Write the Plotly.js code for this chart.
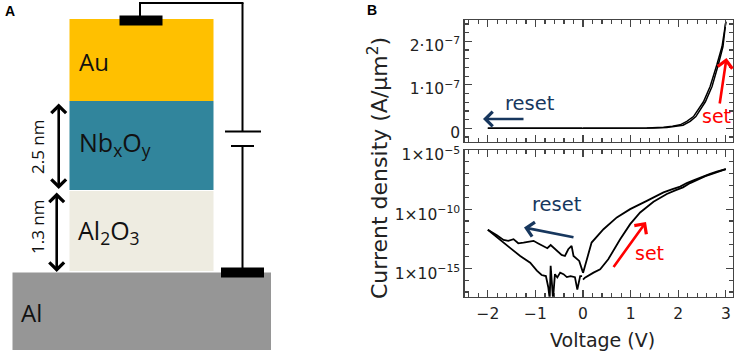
<!DOCTYPE html>
<html>
<head>
<meta charset="utf-8">
<script src="https://cdn.plot.ly/plotly-3.0.1.min.js"></script>
<style>html,body{margin:0;padding:0;background:#fff}</style>
</head>
<body>
<div id="chart" style="width:737px;height:352px"></div>
<script>
const setV = [0, 0.04, 0.22, 0.36, 0.53, 0.78, 0.99, 1.2, 1.48, 1.76, 1.95, 2.1, 2.25, 2.37, 2.57, 2.71, 2.84, 2.94, 3];
const setJ = [1.1e-16, 1.6e-16, 4.3e-16, 8.3e-16, 5.8e-15, 2.9e-13, 5.4e-12, 5.2e-11, 4.2e-10, 1.9e-9, 4e-9, 7e-9, 1.6e-8, 2.7e-8, 6.1e-8, 9.6e-8, 1.455e-7, 1.88e-7, 2.45e-7];
const returnV = [3, 2.92, 2.81, 2.67, 2.53, 2.32, 2.18, 2.04, 1.88, 1.69, 1.34, 0.99, 0.71, 0.43, 0.18, 0.11, 0.04, 0];
const returnJ = [2.45e-7, 1.88e-7, 1.455e-7, 9.6e-8, 6.1e-8, 2.7e-8, 1.6e-8, 8e-9, 5e-9, 2.6e-9, 5e-10, 1e-10, 2e-11, 2e-12, 1.5e-13, 1.6e-14, 2.2e-15, 4e-16];
const resetV = [0, -0.08, -0.2, -0.24, -0.31, -0.38, -0.45, -0.55, -0.68, -0.75, -0.83, -0.94, -1.04, -1.11, -1.25, -1.36, -1.46, -1.57, -1.67, -1.81, -2];
const resetJ = [4.3e-16, 4.2e-15, 1.1e-14, 7.9e-14, 4.1e-14, 1.1e-14, 1.35e-14, 3e-14, 9.3e-14, 5e-14, 7.9e-14, 1.26e-13, 2.1e-13, 1.8e-13, 1.5e-13, 1.3e-13, 2.9e-13, 2.1e-13, 2.5e-13, 6.3e-13, 1.8e-12];
const backV = [-2, -1.81, -1.54, -1.32, -1.11, -0.97, -0.87, -0.78, -0.73, -0.7, -0.68, -0.63, -0.59, -0.54, -0.48, -0.41, -0.34, -0.26, -0.17, -0.12, -0.06, -0.02];
const backJ = [1.8e-12, 4e-13, 5.6e-14, 1.1e-14, 3e-15, 6.3e-16, 2.7e-16, 2.2e-16, 2.5e-17, 2.5e-18, 1.6e-15, 2.5e-18, 3.2e-16, 1.7e-16, 4.3e-16, 3.2e-16, 1.8e-16, 2.2e-16, 1.8e-16, 1.6e-17, 2.2e-16, 2.2e-16];

const linTickVals = [0, 1e-7, 2e-7];
const linTickText = ['0', '1·10<sup>−7</sup>', '2·10<sup>−7</sup>'];
const logTickVals = [1e-15, 1e-10, 1e-5];
const logTickText = ['1×10<sup>−15</sup>', '1×10<sup>−10</sup>', '1×10<sup>−5</sup>'];
const voltTicks = [-2, -1, 0, 1, 2, 3];
const voltText = ['−2', '−1', '0', '1', '2', '3'];

const W = 737, H = 352;
const X = p => p / W, Y = p => 1 - p / H;
const SANS = 'DejaVu Sans, Verdana, sans-serif';
const LAYER = '"Open Sans", "Noto Sans", sans-serif';
const FRAME = '#444444', NAVY = '#17375E', RED = '#FF0000';

const curves = [[setV, setJ], [returnV, returnJ], [resetV, resetJ], [backV, backJ]];
const traces = [];
[['x', 'y', 1.5], ['x2', 'y2', 1.8]].forEach(([xa, ya, lw]) => curves.forEach(([v, j]) => traces.push({
  x: v, y: j, xaxis: xa, yaxis: ya, type: 'scatter', mode: 'lines',
  line: {color: '#000000', width: lw, shape: 'linear'}, hoverinfo: 'skip', showlegend: false
})));

const rect = (x0, y0, x1, y1, color) => ({type: 'rect', xref: 'paper', yref: 'paper',
  x0: X(x0), x1: X(x1), y0: Y(y1), y1: Y(y0), fillcolor: color, line: {width: 0}, layer: 'below'});
const seg = (x0, y0, x1, y1, w) => ({type: 'line', xref: 'paper', yref: 'paper',
  x0: X(x0), x1: X(x1), y0: Y(y0), y1: Y(y1), line: {color: '#000000', width: w}});

const shapes = [
  rect(69.5, 19, 213.5, 101, '#FFC000'),
  rect(69.5, 101, 213.5, 190, '#31859C'),
  rect(69.5, 191, 213.5, 271, '#EEECE1'),
  rect(12.5, 272.5, 271, 350, '#969696'),
  seg(140, 16, 140, 3, 2), seg(139, 3, 243.5, 3, 2), seg(242.5, 3, 242.5, 131, 2),
  seg(225, 131.5, 261, 131.5, 2), seg(231, 146, 254, 146, 2), seg(242.5, 146, 242.5, 268, 2),
  rect(119.5, 15.5, 162.5, 25.5, '#000000'),
  rect(221, 267.5, 264, 277.5, '#000000')
];
shapes[10].layer = 'above'; shapes[11].layer = 'above';

const label = (x, y, text, size, color, font, extra) => Object.assign({
  xref: 'paper', yref: 'paper', x: X(x), y: Y(y), text, showarrow: false,
  font: {size, color, family: font}, xanchor: 'center', yanchor: 'middle'
}, extra || {});
const arrow = (x0, y0, x1, y1, color, w, both) => ({
  xref: 'paper', yref: 'paper', x: X(x1), y: Y(y1), ax: x0 - x1, ay: y0 - y1, axref: 'pixel', ayref: 'pixel',
  text: '', showarrow: true, arrowcolor: color, arrowwidth: w, arrowhead: 4, arrowsize: 1.1,
  arrowside: both ? 'end+start' : 'end', startarrowhead: 4, startarrowsize: 1.1, standoff: 0, startstandoff: 0
});

const annotations = [
  label(10, 11, '<b>A</b>', 14, '#000000', 'Liberation Sans'),
  label(372, 10, '<b>B</b>', 14, '#000000', 'Liberation Sans'),
  label(94, 61, 'Au', 24, '#111111', LAYER),
  label(115, 143, 'Nb<sub>x</sub>O<sub>y</sub>', 25, '#111111', LAYER),
  label(109, 231, 'Al<sub>2</sub>O<sub>3</sub>', 25, '#111111', LAYER),
  label(32, 312, 'Al', 24, '#111111', LAYER),
  label(37, 147, '2.5 nm', 17, '#111111', LAYER, {textangle: -90}),
  label(37, 227, '1.3 nm', 17, '#111111', LAYER, {textangle: -90}),
  arrow(58.7, 102, 58.7, 189, '#000000', 2.6, true),
  arrow(56.7, 191, 56.7, 272, '#000000', 2.6, true),
  label(378, 168, 'Current density (A/μm<sup>2</sup>)', 22, '#222222', SANS, {textangle: -90}),
  label(602, 340, 'Voltage (V)', 19, '#222222', SANS),
  label(530, 103, 'reset', 19.5, NAVY, SANS),
  arrow(525, 119, 483, 119, NAVY, 2.6),
  label(716, 116, 'set', 19, RED, SANS),
  arrow(719.5, 105, 726.5, 58, RED, 2.6),
  label(557, 204, 'reset', 19.5, NAVY, SANS),
  arrow(575, 237.5, 524, 227.5, NAVY, 2.6),
  label(649, 253, 'set', 19, RED, SANS),
  arrow(612.5, 268.5, 646, 222, RED, 2.6)
];

const common = {
  showline: true, linecolor: FRAME, linewidth: 1.2, mirror: 'ticks', ticks: 'inside', ticklen: 7, tickwidth: 1.2,
  tickcolor: FRAME, showgrid: false, zeroline: false, tickfont: {family: SANS, size: 15.5, color: '#222222'}
};
const minorTicks = d => ({dtick: d, ticks: 'inside', ticklen: 4, tickwidth: 1.2, tickcolor: FRAME, showgrid: false});
const xBase = {range: [-2.49, 3.14], domain: [X(464.5), X(732.5)], tickmode: 'array', tickvals: voltTicks, ticktext: voltText, minor: minorTicks(0.2)};

const layout = {
  width: W, height: H, margin: {l: 0, r: 0, t: 0, b: 0}, paper_bgcolor: '#ffffff', plot_bgcolor: 'rgba(0,0,0,0)',
  showlegend: false, shapes, annotations,
  xaxis: Object.assign({}, common, xBase, {anchor: 'y', showticklabels: false}),
  yaxis: Object.assign({}, common, {anchor: 'x', domain: [Y(141.7), Y(20)], range: [-0.308e-7, 2.49e-7],
    tickmode: 'array', tickvals: linTickVals, ticktext: linTickText, minor: minorTicks(0.2e-7), ticklabelshift: 4}),
  xaxis2: Object.assign({}, common, xBase, {anchor: 'y2', ticklabelstandoff: 2}),
  yaxis2: Object.assign({}, common, {anchor: 'x2', type: 'log', domain: [Y(296.7), Y(150)], range: [-17.4, -5],
    tickmode: 'array', tickvals: logTickVals, ticktext: logTickText, minor: minorTicks(1), ticklabelshift: 5})
};

Plotly.newPlot('chart', traces, layout, {displayModeBar: false, staticPlot: true});
</script>
</body>
</html>
